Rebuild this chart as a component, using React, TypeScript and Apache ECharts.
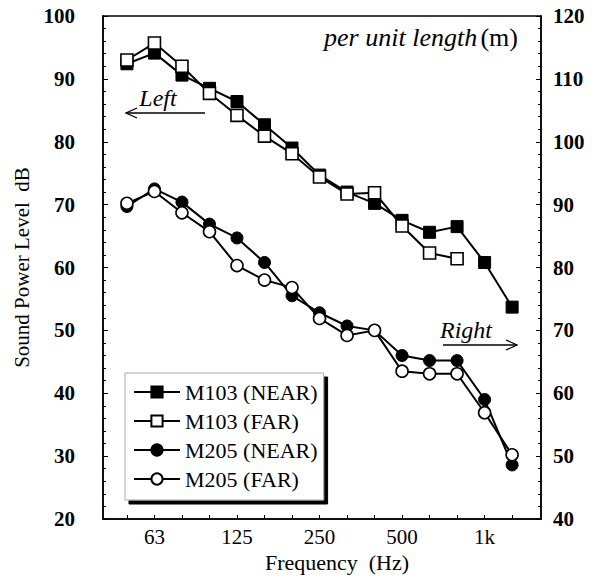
import React, { useEffect, useRef } from "react";
import * as echarts from "echarts";

// 1/3-octave band centre frequencies (Hz)
const bands = [50, 63, 80, 100, 125, 160, 200, 250, 315, 400, 500, 630, 800, 1000, 1250];
const tickFreqs = [63, 125, 250, 500, 1000];
const tickLabels = ["63", "125", "250", "500", "1k"];

// M103 read on the left axis (dB)
const m103Near = [92.4, 94.1, 90.6, 88.5, 86.4, 82.7, 79.0, 74.7, 72.0, 70.2, 67.5, 65.6, 66.5, 60.8, 53.7];
const m103Far = [93.0, 95.7, 92.0, 87.7, 84.2, 80.9, 78.1, 74.4, 71.7, 71.9, 66.6, 62.3, 61.4];
// M205 read on the right axis (dB)
const m205Near = [89.7, 92.5, 90.4, 86.9, 84.7, 80.8, 75.5, 72.8, 70.7, 70.0, 66.0, 65.2, 65.2, 59.0, 48.6];
const m205Far = [90.2, 92.1, 88.7, 85.7, 80.3, 78.0, 76.8, 71.9, 69.2, 70.0, 63.5, 63.1, 63.1, 56.9, 50.2];

const FONT = "Liberation Serif";

const toPts = (arr: number[]) => arr.map((v, i) => [i, v]);

export default function App() {
  const ref = useRef<HTMLDivElement>(null);
  useEffect(() => {
    if (!ref.current) return;
    const chart = echarts.init(ref.current, null, { renderer: "svg" });
    const lineStyle = { color: "#000", width: 2 };
    const filled = { color: "#000", borderColor: "#000", borderWidth: 1 };
    const open = { color: "#fff", borderColor: "#000", borderWidth: 1.6 };
    const mk = (name: string, data: number[], symbol: string, style: any, yi: number) => ({
      name,
      type: "line",
      data: toPts(data),
      yAxisIndex: yi,
      symbol,
      symbolSize: 12,
      showSymbol: true,
      lineStyle,
      itemStyle: style,
      emphasis: { disabled: true },
    });
    const yAxisCommon = {
      type: "value",
      interval: 10,
      axisLine: { show: true, onZero: false, lineStyle: { color: "#000", width: 1.5 } },
      axisTick: { show: true, inside: true, length: 5, lineStyle: { color: "#000" } },
      minorTick: { show: true, splitNumber: 5, length: 3, lineStyle: { color: "#000" } },
      splitLine: { show: false },
    };
    chart.setOption({
      animation: false,
      backgroundColor: "#fff",
      textStyle: { fontFamily: FONT, color: "#000" },
      grid: { left: 103, right: 55, top: 16, bottom: 68, show: true, borderColor: "#000", borderWidth: 1.5 },
      legend: {
        orient: "vertical",
        left: 125,
        top: 373,
        padding: [8, 6, 10, 8],
        itemGap: 7,
        itemWidth: 46,
        itemHeight: 14,
        backgroundColor: "#fff",
        borderColor: "#aaa",
        borderWidth: 1,
        shadowColor: "#000",
        shadowBlur: 0,
        shadowOffsetX: 4,
        shadowOffsetY: 4,
        textStyle: { fontFamily: FONT, fontSize: 22, color: "#000", lineHeight: 22 },
        data: ["M103 (NEAR)", "M103 (FAR)", "M205 (NEAR)", "M205 (FAR)"],
      },
      xAxis: {
        type: "value",
        min: -0.87,
        max: 15.05,
        name: "Frequency  (Hz)",
        nameLocation: "middle",
        nameGap: 27,
        nameTextStyle: { fontFamily: FONT, fontSize: 22, color: "#000", padding: [0, 0, 0, 30], verticalAlign: "top" },
        axisLine: { show: true, onZero: false, lineStyle: { color: "#000", width: 1.5 } },
        axisTick: {
          show: true,
          inside: true,
          length: 4,
          customValues: bands.map((_, i) => i),
          lineStyle: { color: "#000" },
        },
        axisLabel: {
          fontFamily: FONT,
          fontSize: 21,
          color: "#000",
          margin: 7,
          customValues: tickFreqs.map((f) => bands.indexOf(f)),
          formatter: (v: number) => {
            const k = tickFreqs.indexOf(bands[Math.round(v)]);
            return k >= 0 ? tickLabels[k] : "";
          },
        },
        splitLine: { show: false },
      },
      yAxis: [
        {
          ...yAxisCommon,
          min: 20,
          max: 100,
          position: "left",
          name: "Sound Power Level  dB",
          nameLocation: "middle",
          nameGap: 70,
          nameTextStyle: { fontFamily: FONT, fontSize: 21, color: "#000" },
          axisLabel: { fontFamily: FONT, fontSize: 21, fontWeight: "bold", color: "#000", margin: 28 },
        },
        {
          ...yAxisCommon,
          min: 40,
          max: 120,
          position: "right",
          axisLabel: { fontFamily: FONT, fontSize: 21, fontWeight: "bold", color: "#000", margin: 12 },
        },
      ],
      series: [
        mk("M103 (NEAR)", m103Near, "rect", filled, 0),
        mk("M103 (FAR)", m103Far, "rect", open, 0),
        mk("M205 (NEAR)", m205Near, "circle", filled, 1),
        mk("M205 (FAR)", m205Far, "circle", open, 1),
      ],
      graphic: [
        {
          type: "text",
          x: 518,
          y: 37,
          style: {
            text: "{i|per unit length} {n|(m)}",
            align: "right",
            verticalAlign: "middle",
            rich: {
              i: { fontFamily: FONT, fontSize: 26, fontStyle: "italic", fill: "#000" },
              n: { fontFamily: FONT, fontSize: 26, fill: "#000" },
            },
          },
        },
        {
          type: "text",
          x: 158,
          y: 98,
          style: { text: "Left", fontFamily: FONT, fontSize: 24, fontStyle: "italic", fill: "#000", align: "center", verticalAlign: "middle" },
        },
        { type: "line", shape: { x1: 126, y1: 113, x2: 205, y2: 113 }, style: { stroke: "#000", lineWidth: 1.3 } },
        { type: "polyline", shape: { points: [[137, 108], [126, 113], [137, 118]] }, style: { stroke: "#000", fill: "none", lineWidth: 1.3 } },
        {
          type: "text",
          x: 466,
          y: 330,
          style: { text: "Right", fontFamily: FONT, fontSize: 24, fontStyle: "italic", fill: "#000", align: "center", verticalAlign: "middle" },
        },
        { type: "line", shape: { x1: 443, y1: 345, x2: 517, y2: 345 }, style: { stroke: "#000", lineWidth: 1.3 } },
        { type: "polyline", shape: { points: [[506, 340], [517, 345], [506, 350]] }, style: { stroke: "#000", fill: "none", lineWidth: 1.3 } },
      ],
    });
    return () => chart.dispose();
  }, []);
  return <div ref={ref} style={{ width: 596, height: 587, position: "absolute", left: 0, top: 0 }} />;
}
